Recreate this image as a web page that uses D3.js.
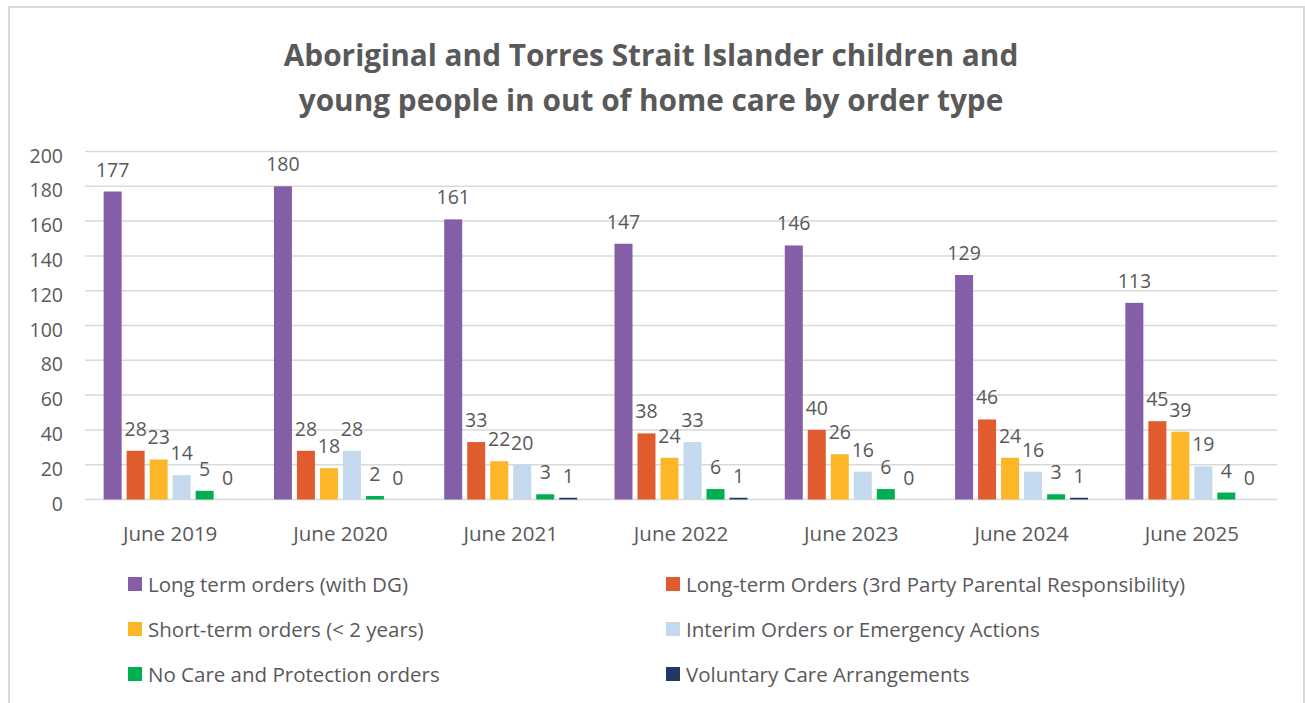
<!DOCTYPE html>
<html><head><meta charset="utf-8">
<script src="https://cdn.jsdelivr.net/npm/d3@7"></script>
<style>body{margin:0;background:#fff}svg{display:block}text{font-family:"Open Sans",sans-serif;fill:#595959}</style>
</head><body>
<script>
const categories = ["June 2019","June 2020","June 2021","June 2022","June 2023","June 2024","June 2025"];
const seriesNames = ["Long term orders (with DG)","Long-term Orders (3rd Party Parental Responsibility)","Short-term orders (< 2 years)","Interim Orders or Emergency Actions","No Care and Protection orders","Voluntary Care Arrangements"];
const longTermDG = [177,180,161,147,146,129,113];
const longTerm3rdParty = [28,28,33,38,40,46,45];
const shortTerm = [23,18,22,24,26,24,39];
const interim = [14,28,20,33,16,16,19];
const noCareProtection = [5,2,3,6,6,3,4];
const voluntary = [0,0,1,1,0,1,0];
const yTicks = [0,20,40,60,80,100,120,140,160,180,200];
const colors = ["#845ea7","#e05c2e","#fbb728","#c5d9ee","#00b050","#203864"];
const titleLines = ["Aboriginal and Torres Strait Islander children and","young people in out of home care by order type"];

const series = [longTermDG,longTerm3rdParty,shortTerm,interim,noCareProtection,voluntary];
const W=1305,H=703;
const svg=d3.select("body").append("svg").attr("width",W).attr("height",H);
svg.append("rect").attr("x",9).attr("y",7).attr("width",1295).attr("height",710).attr("fill","#fff").attr("stroke","#d9d9d9").attr("stroke-width",2);

svg.selectAll("text.title").data(titleLines).enter().append("text")
  .attr("x",651).attr("y",(d,i)=>66+i*45).attr("text-anchor","middle")
  .style("font-size","29.8px").style("font-weight","bold").text(d=>d);

const x0=d3.scaleBand().domain(categories).range([85,1277]);
const y=d3.scaleLinear().domain([0,200]).range([499.5,151.5]);
const barW=18, step=23, groupW=step*5+barW;

svg.append("g").selectAll("line").data(yTicks).enter().append("line")
  .attr("x1",85).attr("x2",1277).attr("y1",d=>y(d)).attr("y2",d=>y(d))
  .attr("stroke","#d9d9d9").attr("stroke-width",1.5);
svg.append("g").selectAll("text").data(yTicks).enter().append("text")
  .attr("x",63).attr("y",d=>y(d)+11).attr("text-anchor","end").style("font-size","19.5px").text(d=>d);

svg.append("g").selectAll("text").data(categories).enter().append("text")
  .attr("x",d=>x0(d)+x0.bandwidth()/2).attr("y",541).attr("text-anchor","middle").style("font-size","20.5px").text(d=>d);

const bx=(ci,si)=>x0(categories[ci])+(x0.bandwidth()-groupW)/2+si*step;
series.forEach((vals,si)=>{
  const g=svg.append("g");
  g.selectAll("rect").data(vals).enter().append("rect")
    .attr("x",(d,ci)=>bx(ci,si)).attr("width",barW)
    .attr("y",d=>y(d)).attr("height",d=>y(0)-y(d)).attr("fill",colors[si]);
  g.selectAll("text").data(vals).enter().append("text")
    .attr("x",(d,ci)=>bx(ci,si)+barW/2).attr("y",d=>y(d)-15).attr("text-anchor","middle")
    .style("font-size","19.5px").text(d=>d);
});

const legPos=[[128,584],[666,584],[128,629],[666,629],[128,674],[666,674]];
seriesNames.forEach((n,i)=>{
  const g=svg.append("g").attr("transform",`translate(${legPos[i][0]},${legPos[i][1]})`);
  g.append("rect").attr("x",0).attr("y",-7).attr("width",14).attr("height",14).attr("fill",colors[i]);
  g.append("text").attr("x",20).attr("y",7.5).style("font-size","20.5px").text(n);
});
</script>
</body></html>
